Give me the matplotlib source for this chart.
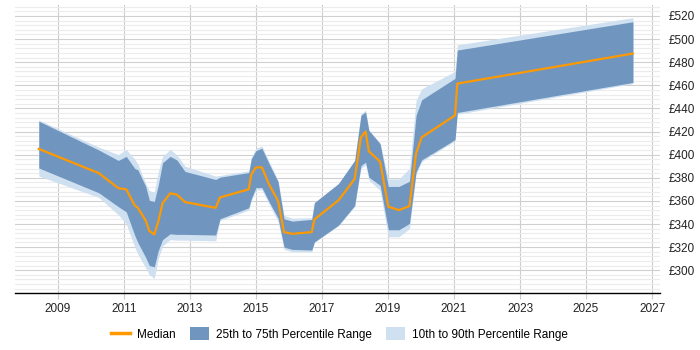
import matplotlib
matplotlib.use("Agg")
import matplotlib.pyplot as plt
from matplotlib.patches import Patch
from matplotlib.lines import Line2D
from matplotlib.ticker import MultipleLocator, FuncFormatter

plt.rcParams['font.family'] = ['Liberation Sans', 'DejaVu Sans']

dates = [2008.42, 2010.24, 2010.83, 2011.07, 2011.33, 2011.42, 2011.66, 2011.77, 2011.92, 2012.04,
         2012.17, 2012.40, 2012.60, 2012.85, 2013.78, 2013.91, 2014.78, 2014.86, 2015.00, 2015.18,
         2015.40, 2015.67, 2015.85, 2016.10, 2016.69, 2016.77, 2017.50, 2017.99, 2018.18, 2018.32,
         2018.42, 2018.76, 2019.01, 2019.33, 2019.65, 2019.85, 2020.02, 2021.03, 2021.10, 2026.42]

p50 = [405, 384, 371, 370, 356, 354, 343, 334, 331, 342,
       358, 366.5, 365.5, 359, 354, 363, 370, 383, 389, 389,
       374, 360, 333, 331.5, 333, 344, 360.5, 379, 415, 420,
       403, 394, 355, 352, 355.5, 401, 415, 434, 461.5, 487.5]

p75 = [429, 404, 395, 398.5, 388, 387, 372.5, 360.5, 359.5, 373.5,
       393, 398.5, 395.5, 385.5, 378.5, 380.5, 384.5, 396.5, 403.5, 405.5,
       392, 376.5, 344.5, 342.5, 344, 358.5, 375, 395, 434, 437,
       421, 409.5, 372.5, 372.5, 377, 434, 447.5, 466, 490.5, 515]

p25 = [388.5, 367, 355, 350.5, 330, 324, 311, 304, 303, 317,
       326.5, 331.5, 331, 331, 330.5, 344.5, 354, 362, 371.5, 371.5,
       359, 345, 320, 318, 317.5, 324.5, 339, 356, 390.5, 393.5,
       380.5, 373.5, 335, 335, 340.5, 385, 395.5, 413, 436.5, 462.5]

p90 = [430, 406.5, 400, 404.5, 396, 392, 375, 369, 367.5, 385,
       398.5, 404.5, 400, 390, 381.5, 382, 386, 398, 405.5, 407.5,
       394, 378, 347.5, 345, 345.5, 358.5, 375, 395, 435.5, 438.5,
       421.5, 410, 379, 379, 388, 447, 457, 472, 495, 518.5]

p10 = [381.5, 363, 348, 340, 320, 314, 302, 296, 293, 310,
       321, 326.5, 326, 326, 325.5, 343, 352, 360, 369.5, 369.5,
       357, 342, 318, 316, 316, 324, 338.5, 355, 388, 391,
       378, 369, 329, 329, 336, 383, 394, 412, 435, 461.5]

year_ticks = [2009, 2011, 2013, 2015, 2017, 2019, 2021, 2023, 2025, 2027]

c_median = '#FF9900'
c_iqr = '#7096c0'
c_outer = '#cfe0f0'

fig = plt.figure(figsize=(7, 3.5), dpi=100)
ax = fig.add_axes([15/700, 1 - 293/350, (660 - 15)/700, (293 - 5)/350])

ax.fill_between(dates, p10, p90, color=c_outer, lw=0, zorder=2)
ax.fill_between(dates, p25, p75, color=c_iqr, lw=0, zorder=3)
ax.plot(dates, p50, color=c_median, lw=1.6, zorder=4)

ax.set_xlim(2007.70, 2027.24)
ax.set_ylim(280.3, 529.5)
ax.set_xticks(year_ticks)
ax.set_xticklabels([str(y) for y in year_ticks])
ax.yaxis.set_major_locator(MultipleLocator(20))
ax.yaxis.set_minor_locator(MultipleLocator(4))
ax.yaxis.set_major_formatter(FuncFormatter(lambda v, p: '£%d' % v if v >= 300 else ''))
ax.yaxis.tick_right()

ax.grid(axis='x', color='#cccccc', lw=0.8, zorder=0)
ax.grid(axis='y', which='major', color='#d0d0d0', lw=0.8, zorder=0)
ax.grid(axis='y', which='minor', color='#ececec', lw=0.8, zorder=0)
ax.set_axisbelow(True)

for s in ['top', 'left', 'right']:
    ax.spines[s].set_visible(False)
ax.spines['bottom'].set_color('black')
ax.spines['bottom'].set_linewidth(1)

ax.tick_params(axis='x', length=4, color='#cccccc', labelsize=8.5, pad=3, labelcolor='#222222')
ax.tick_params(axis='y', which='both', length=0, labelsize=8.5, pad=6, labelcolor='#222222')

handles = [
    Line2D([0], [0], color=c_median, lw=2.5),
    Patch(facecolor=c_iqr, edgecolor='none'),
    Patch(facecolor=c_outer, edgecolor='none'),
]
labels = ['Median', '25th to 75th Percentile Range', '10th to 90th Percentile Range']
fig.legend(handles, labels, loc='center', bbox_to_anchor=(0.485, 1 - 334/350), ncol=3,
           frameon=False, fontsize=8.5, handlelength=1.6, handleheight=1.3,
           columnspacing=1.2, handletextpad=0.6)

fig.savefig('out.png', dpi=100)
